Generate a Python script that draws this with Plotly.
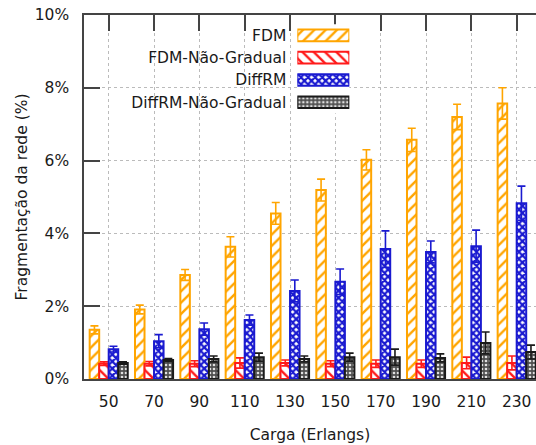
import plotly.graph_objects as go

# ---------------- data ----------------
loads = ["50", "70", "90", "110", "130", "150", "170", "190", "210", "230"]
series_names = ["FDM", "FDM-Não-Gradual", "DiffRM", "DiffRM-Não-Gradual"]

fdm = [1.35, 1.91, 2.86, 3.63, 4.55, 5.19, 6.02, 6.57, 7.20, 7.57]
fdm_err = [0.11, 0.12, 0.15, 0.28, 0.30, 0.30, 0.28, 0.32, 0.35, 0.43]

fdm_ng = [0.42, 0.42, 0.42, 0.44, 0.44, 0.42, 0.42, 0.42, 0.44, 0.44]
fdm_ng_err = [0.05, 0.06, 0.08, 0.14, 0.08, 0.08, 0.10, 0.10, 0.16, 0.19]

diff = [0.82, 1.04, 1.37, 1.62, 2.42, 2.67, 3.57, 3.49, 3.65, 4.83]
diff_err = [0.08, 0.18, 0.17, 0.14, 0.30, 0.35, 0.50, 0.30, 0.44, 0.47]

diff_ng = [0.44, 0.52, 0.55, 0.60, 0.55, 0.60, 0.60, 0.58, 0.99, 0.74]
diff_ng_err = [0.03, 0.04, 0.08, 0.11, 0.08, 0.11, 0.22, 0.11, 0.30, 0.19]

y_ticks = [0, 2, 4, 6, 8, 10]
y_ticktext = ["0%", "2%", "4%", "6%", "8%", "10%"]
legend_value = [1]

# ---------------- styles ----------------
FONT = "DejaVu Sans"
FS = 15.5
AXC = "#444444"
colors = ["#FFA500", "#FF1A1A", "#1A1AD0", "#1A1A1A"]
bgcols = ["white", "white", "white", "#505050"]
shapes = ["/", "\\", "x", "."]
fgcols = ["#FFA500", "#FF1A1A", "#1A1AD0", "#E0E0E0"]
psizes = [8, 8, 5, 4]
psol = [0.3, 0.3, 0.7, 0.35]

values = [fdm, fdm_ng, diff, diff_ng]
errors = [fdm_err, fdm_ng_err, diff_err, diff_ng_err]


def marker_style(i):
    return dict(
        color=bgcols[i],
        line=dict(color=colors[i], width=2),
        pattern=dict(shape=shapes[i], fgcolor=fgcols[i], bgcolor=bgcols[i],
                     size=psizes[i], solidity=psol[i], fillmode="replace"),
    )


fig = go.Figure()

for i, name in enumerate(series_names):
    fig.add_trace(go.Bar(
        x=loads, y=values[i], name=name, showlegend=False,
        marker=marker_style(i),
        error_y=dict(type="data", array=errors[i], visible=True,
                     color=colors[i], thickness=1.6, width=4),
        xaxis="x", yaxis="y",
    ))

# Legend drawn as an inset bar chart (text left of swatch, gnuplot style)
for i, name in enumerate(series_names):
    fig.add_trace(go.Bar(
        y=[name], x=legend_value, orientation="h", showlegend=False,
        width=0.52, offsetgroup="legend", name=name,
        marker=marker_style(i), hoverinfo="skip",
        xaxis="x2", yaxis="y2",
    ))

fig.update_layout(
    width=536, height=445,
    margin=dict(l=84, r=0, t=15, b=66),
    paper_bgcolor="white", plot_bgcolor="white",
    font=dict(family=FONT, size=FS, color="#1a1a1a"),
    barmode="group", bargap=0.16, bargroupgap=0.0,
    xaxis=dict(
        type="category", range=[-0.545, 9.426],
        showline=True, linecolor=AXC, linewidth=1.5, mirror="ticks",
        ticks="inside", ticklen=16, tickwidth=1.5, tickcolor=AXC,
        showgrid=True, gridcolor="#BBBBBB", griddash="dot", gridwidth=1,
        layer="below traces",
        title=dict(text="Carga (Erlangs)", standoff=19, font=dict(size=FS)),
        ticklabelstandoff=8,
    ),
    yaxis=dict(
        range=[0, 10], tickmode="array", tickvals=y_ticks, ticktext=y_ticktext,
        showline=True, linecolor=AXC, linewidth=1.5, mirror=False,
        ticks="inside", ticklen=16, tickwidth=1.5, tickcolor=AXC,
        showgrid=True, gridcolor="#BBBBBB", griddash="dot", gridwidth=1,
        zeroline=False, layer="below traces",
        title=dict(text="Fragmentação da rede (%)", standoff=3, font=dict(size=FS)),
        ticklabelstandoff=10,
    ),
    yaxis3=dict(
        overlaying="y", side="right", anchor="x",
        range=[0, 10], tickvals=y_ticks, showticklabels=False,
        ticks="inside", ticklen=8, tickwidth=1.5, tickcolor=AXC,
        showline=False, showgrid=False, zeroline=False,
    ),
    xaxis2=dict(domain=[0.472, 0.587], range=[0, 1], visible=False,
                anchor="y2", fixedrange=True),
    yaxis2=dict(domain=[0.7298, 0.9746], anchor="x2", type="category",
                categoryorder="array", categoryarray=series_names,
                autorange="reversed", showline=False, showgrid=False,
                zeroline=False, ticks="", ticklabelstandoff=10,
                tickfont=dict(size=FS, family=FONT, color="#1a1a1a"),
                fixedrange=True),
)

fig.write_html("out.html")
